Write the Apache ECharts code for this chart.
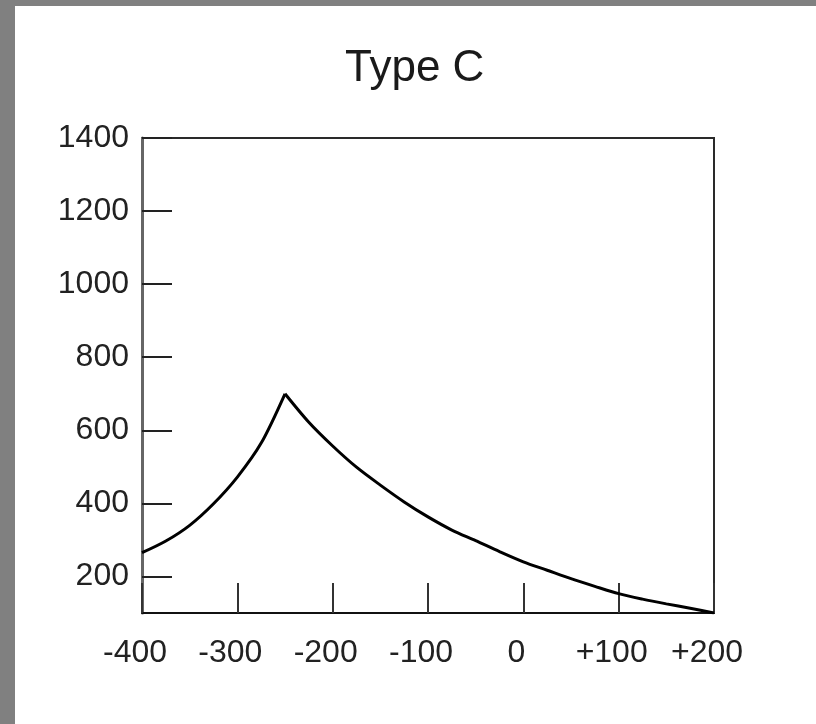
<!DOCTYPE html>
<html>
<head>
<meta charset="utf-8">
<script src="https://cdn.jsdelivr.net/npm/echarts@6/dist/echarts.min.js"></script>
<style>
  html, body { margin: 0; padding: 0; background: #ffffff; }
  #chart { width: 816px; height: 724px; }
</style>
</head>
<body>
<div id="chart"></div>
<script>
// ---- data ----
var titleText = 'Type C';
var xValues = [-400, -375, -350, -325, -300, -275, -250, -225, -200, -175, -150, -125, -100, -75, -50, -25, 0, 25, 50, 75, 100, 125, 150, 175, 200];
var yValues = [265, 297, 340, 399, 472, 565, 700, 622, 557, 499, 450, 404, 363, 327, 298, 268, 240, 217, 194, 173, 153, 138, 125, 113, 100];
var peakX = -250;
var yTickValues = [200, 400, 600, 800, 1000, 1200, 1400];
var xRange = [-400, 200];
var yRange = [100, 1400];

var points = xValues.map(function (x, i) { return [x, yValues[i]]; });
var leftBranch = points.filter(function (p) { return p[0] <= peakX; });
var rightBranch = points.filter(function (p) { return p[0] >= peakX; });

var chart = echarts.init(document.getElementById('chart'), null, { renderer: 'canvas' });
var font = 'Liberation Sans, Arial, sans-serif';

function branch(data) {
  return {
    type: 'line',
    data: data,
    showSymbol: false,
    symbol: 'none',
    smooth: 0.3,
    lineStyle: { color: '#000', width: 3 },
    clip: true
  };
}

chart.setOption({
  backgroundColor: '#ffffff',
  animation: false,
  title: {
    text: titleText,
    left: 340,
    top: 42,
    textStyle: { fontFamily: font, fontSize: 44, fontWeight: 'normal', color: '#1a1a1a' }
  },
  graphic: [
    { type: 'rect', left: 0, top: 0, shape: { width: 15, height: 724 }, style: { fill: '#808080' }, silent: true },
    { type: 'rect', left: 0, top: 0, shape: { width: 816, height: 6 }, style: { fill: '#808080' }, silent: true }
  ],
  grid: {
    left: 142, right: 102, top: 138, bottom: 111,
    show: true, borderColor: '#2a2a2a', borderWidth: 2, backgroundColor: 'transparent'
  },
  xAxis: {
    type: 'value',
    min: xRange[0], max: xRange[1], interval: 100,
    splitLine: { show: false },
    axisLine: { show: true, onZero: false, lineStyle: { color: '#111', width: 2 } },
    axisTick: { show: true, inside: true, length: 30, lineStyle: { color: '#333', width: 2 } },
    axisLabel: {
      margin: 24,
      fontFamily: font, fontSize: 32, color: '#222',
      padding: [0, 14, 0, 0],
      formatter: function (v) { return v > 0 ? '+' + v : String(v); }
    }
  },
  yAxis: {
    type: 'value',
    min: yRange[0], max: yRange[1],
    splitLine: { show: false },
    axisLine: { show: true, onZero: false, lineStyle: { color: '#666', width: 3 } },
    axisTick: { show: true, inside: true, length: 30, customValues: yTickValues, lineStyle: { color: '#222', width: 2 } },
    axisLabel: {
      margin: 13,
      fontFamily: font, fontSize: 32, color: '#222',
      customValues: yTickValues,
      formatter: function (v) { return String(v); }
    }
  },
  series: [branch(leftBranch), branch(rightBranch)]
});
</script>
</body>
</html>
